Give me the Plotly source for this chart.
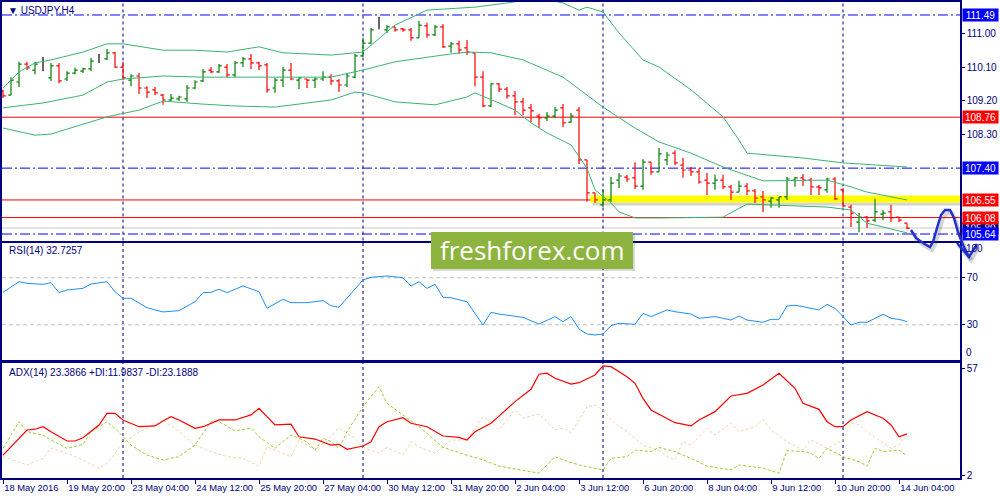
import plotly.graph_objects as go

# ---------------- data (USDJPY H4) ----------------
bar_index = list(range(114))
opens = [109.46, 109.35, 109.70, 110.18, 110.02, 110.16, 109.81, 110.13, 109.78, 109.94,
         109.99, 110.05, 110.29, 110.32, 110.48, 110.10, 109.75, 109.86, 109.54, 109.49,
         109.35, 109.22, 109.25, 109.25, 109.54, 109.73, 110.02, 109.97, 110.10, 109.89,
         110.21, 110.32, 110.21, 110.16, 109.54, 109.75, 110.02, 109.75, 109.78, 109.75,
         109.78, 109.83, 109.73, 109.62, 109.83, 110.40, 110.74, 111.12, 111.09, 111.17,
         111.12, 111.09, 110.88, 111.20, 110.96, 111.17, 110.66, 110.72, 110.61, 110.48,
         109.83, 109.06, 109.65, 109.51, 109.33, 109.17, 109.01, 108.79, 108.74, 108.79,
         109.01, 108.63, 108.95, 107.62, 106.74, 106.42, 106.55, 107.08, 107.16, 107.14,
         106.92, 107.56, 107.30, 107.62, 107.80, 107.48, 107.35, 107.30, 107.08, 107.00,
         107.08, 106.90, 106.76, 106.92, 106.79, 106.63, 106.52, 106.55, 106.63, 107.08,
         107.14, 107.08, 106.90, 106.82, 107.11, 106.82, 106.36, 105.96, 106.09, 106.01,
         106.17, 106.23, 106.09, 105.93]
highs = [109.49, 109.83, 110.24, 110.24, 110.24, 110.37, 110.21, 110.21, 109.99, 110.08,
         110.08, 110.34, 110.45, 110.58, 110.50, 110.24, 109.91, 109.94, 109.59, 109.57,
         109.38, 109.38, 109.33, 109.62, 109.75, 110.05, 110.10, 110.18, 110.18, 110.26,
         110.37, 110.45, 110.24, 110.21, 109.81, 110.10, 110.21, 109.83, 109.78, 109.83,
         109.99, 109.91, 109.78, 109.94, 110.45, 110.88, 111.14, 111.44, 111.22, 111.17,
         111.14, 111.14, 111.33, 111.28, 111.22, 111.25, 110.77, 110.80, 110.82, 110.48,
         109.99, 109.67, 109.67, 109.57, 109.46, 109.27, 109.11, 108.85, 108.90, 109.03,
         109.11, 108.87, 109.03, 107.62, 106.74, 106.84, 107.16, 107.27, 107.22, 107.56,
         107.64, 107.56, 107.94, 107.83, 107.88, 107.67, 107.43, 107.40, 107.27, 107.22,
         107.22, 106.95, 107.06, 107.00, 106.84, 106.79, 106.63, 106.63, 107.16, 107.16,
         107.24, 107.14, 106.95, 107.14, 107.16, 106.87, 106.42, 106.20, 106.12, 106.58,
         106.28, 106.42, 106.09, 105.93]
lows = [109.27, 109.35, 109.57, 110.02, 109.91, 109.99, 109.73, 109.67, 109.73, 109.91,
        109.94, 109.99, 110.21, 110.29, 110.08, 109.75, 109.59, 109.38, 109.27, 109.35,
        109.09, 109.19, 109.19, 109.17, 109.51, 109.70, 109.94, 109.94, 109.83, 109.83,
        110.10, 110.05, 110.02, 109.41, 109.41, 109.57, 109.75, 109.51, 109.54, 109.54,
        109.73, 109.62, 109.43, 109.57, 109.81, 110.37, 110.72, 111.12, 111.01, 111.04,
        111.04, 110.80, 110.88, 110.88, 110.93, 110.61, 110.48, 110.45, 110.42, 109.59,
        109.03, 109.03, 109.43, 109.25, 108.82, 108.82, 108.63, 108.47, 108.66, 108.74,
        108.50, 108.61, 107.51, 106.50, 106.47, 106.36, 106.50, 106.87, 107.03, 106.84,
        106.82, 107.22, 107.30, 107.48, 107.48, 107.14, 107.19, 106.98, 106.68, 106.82,
        106.84, 106.55, 106.76, 106.68, 106.47, 106.23, 106.34, 106.34, 106.55, 106.90,
        106.92, 106.68, 106.68, 106.74, 106.55, 106.36, 105.83, 105.69, 105.80, 105.96,
        106.01, 105.96, 105.96, 105.77]
closes = [109.33, 109.75, 110.18, 110.08, 110.18, 110.16, 110.13, 109.73, 109.94, 110.02,
          110.05, 110.26, 110.29, 110.48, 110.10, 109.81, 109.86, 109.54, 109.43, 109.41,
          109.22, 109.27, 109.30, 109.54, 109.70, 109.97, 109.97, 110.13, 109.89, 110.21,
          110.32, 110.21, 110.13, 109.49, 109.75, 110.02, 109.78, 109.81, 109.75, 109.78,
          109.83, 109.73, 109.62, 109.86, 110.40, 110.74, 111.09, 111.12, 111.17, 111.09,
          111.09, 110.88, 111.22, 110.96, 111.17, 110.64, 110.72, 110.56, 110.50, 109.83,
          109.06, 109.65, 109.51, 109.33, 109.17, 108.95, 108.93, 108.74, 108.79, 108.95,
          108.61, 108.79, 107.62, 106.74, 106.55, 106.55, 107.00, 107.19, 107.11, 106.92,
          107.56, 107.30, 107.78, 107.75, 107.54, 107.35, 107.30, 107.03, 107.00, 107.08,
          106.90, 106.76, 106.92, 106.79, 106.60, 106.55, 106.60, 106.63, 107.11, 107.14,
          107.08, 106.90, 106.87, 107.11, 106.58, 106.39, 106.20, 106.09, 105.99, 106.23,
          106.20, 106.07, 106.01, 105.80]

# Bollinger bands (upper / middle / lower)
bb_up_idx = [0, 2, 4, 6, 10, 13, 15, 20, 24, 28, 32, 35, 41, 45, 49, 53, 59, 63, 67, 70,
             72, 73, 75, 77, 80, 82, 86, 90, 92, 93, 100, 105, 113]
bb_up_val = [109.54, 109.97, 110.21, 110.29, 110.50, 110.72, 110.72, 110.55, 110.55, 110.50,
             110.64, 110.48, 110.42, 110.50, 111.22, 111.62, 111.70, 111.81, 111.95, 111.81,
             111.62, 111.70, 111.57, 111.01, 110.29, 110.10, 109.49, 108.77, 108.15, 107.80,
             107.67, 107.54, 107.43]
bb_mid_idx = [0, 5, 10, 13, 15, 20, 25, 33, 41, 45, 49, 55, 58, 61, 65, 70, 75, 79, 82, 86,
              90, 95, 103, 106, 108, 113]
bb_mid_val = [109.01, 109.14, 109.35, 109.70, 109.78, 109.86, 109.83, 109.83, 109.83, 110.02,
              110.24, 110.42, 110.50, 110.48, 110.29, 109.83, 109.03, 108.47, 108.10, 107.80,
              107.43, 107.06, 107.08, 106.90, 106.76, 106.55]
bb_low_idx = [0, 4, 6, 10, 13, 17, 20, 25, 29, 34, 41, 44, 45, 49, 54, 58, 59, 62, 64, 66,
              68, 71, 72, 73, 74, 76, 77, 79, 82, 90, 93, 103, 106, 108, 113]
bb_low_val = [108.47, 108.28, 108.31, 108.58, 108.77, 108.95, 109.19, 109.11, 109.06, 109.03,
              109.22, 109.43, 109.41, 109.17, 109.09, 109.30, 109.41, 109.14, 108.95, 108.61,
              108.34, 108.02, 107.70, 107.40, 106.82, 106.47, 106.23, 106.07, 106.07, 106.09,
              106.44, 106.36, 106.28, 105.93, 105.67]

# RSI(14)
rsi_idx = [0, 2, 3, 5, 6, 7, 8, 10, 11, 13, 14, 15, 16, 18, 19, 20, 22, 24, 25, 26,
           27, 28, 30, 32, 33, 35, 36, 38, 40, 41, 42, 45, 46, 48, 50, 51, 52, 53, 54, 55,
           56, 58, 60, 61, 62, 65, 67, 69, 70, 71, 72, 73, 74, 75, 76, 77, 79, 80, 81, 83,
           84, 86, 87, 89, 91, 92, 93, 95, 96, 97, 98, 99, 100, 102, 103, 104, 105, 106, 107, 108,
           110, 111, 112, 113]
rsi_val = [57.6, 66.6, 65.3, 64.4, 65.8, 57.3, 59.6, 61.0, 64.7, 66.6, 58.1, 52.5, 52.5, 44.5, 42.6, 40.9, 42.0, 49.6, 57.3, 57.6,
           60.2, 57.3, 63.0, 58.1, 44.0, 51.7, 48.8, 48.8, 50.5, 46.2, 44.9, 68.1, 70.4, 71.5, 70.0, 63.0, 66.6, 61.0, 64.4, 53.4,
           53.0, 49.6, 29.8, 40.6, 39.1, 36.3, 30.6, 36.9, 32.6, 36.9, 26.4, 22.1, 21.3, 22.1, 29.2, 31.2, 30.4, 39.7, 36.9, 42.6,
           41.1, 39.1, 35.5, 36.9, 34.0, 37.4, 34.0, 32.1, 34.6, 34.6, 46.0, 46.6, 45.4, 42.6, 47.4, 44.0, 36.9, 29.8, 32.1, 32.1,
           38.9, 35.5, 34.6, 32.7]

# ADX(14), +DI, -DI
adx_idx = [0, 2, 3, 4, 5, 6, 8, 9, 10, 12, 13, 14, 15, 17, 19, 20, 21, 22, 24, 25,
           27, 29, 31, 32, 33, 34, 36, 37, 39, 40, 41, 42, 43, 45, 46, 47, 48, 50, 51, 53,
           55, 57, 58, 59, 61, 62, 64, 66, 67, 68, 69, 71, 72, 74, 75, 76, 78, 79, 80, 81,
           83, 84, 86, 87, 89, 90, 91, 93, 95, 97, 99, 100, 102, 103, 104, 105, 106, 108, 110, 111,
           112, 113]
adx_val = [12.4, 21.1, 25.4, 25.8, 27.1, 24.5, 19.7, 19.7, 21.4, 28.0, 34.0, 34.0, 30.6, 27.1, 27.5, 30.1, 32.3, 30.6, 26.3, 27.1,
           30.6, 30.6, 33.2, 36.6, 32.3, 28.0, 28.4, 21.9, 20.7, 19.3, 17.6, 18.0, 15.4, 17.1, 19.3, 27.1, 29.7, 31.8, 28.9, 27.1,
           22.3, 21.6, 20.2, 24.5, 28.9, 32.6, 40.1, 46.5, 54.3, 54.8, 52.2, 49.2, 49.9, 53.9, 58.6, 58.2, 53.0, 49.6, 41.8, 35.8,
           31.5, 29.2, 27.5, 30.6, 34.9, 39.2, 43.0, 44.4, 48.7, 54.8, 47.0, 39.2, 36.1, 29.7, 27.1, 27.1, 30.6, 34.9, 31.5, 28.0,
           21.9, 23.39]
pdi_idx = [0, 2, 3, 5, 6, 8, 10, 11, 13, 14, 16, 18, 20, 22, 24, 26, 27, 29, 31, 32,
           34, 36, 38, 39, 40, 41, 42, 43, 45, 47, 48, 50, 52, 53, 55, 58, 60, 62, 65, 67,
           69, 70, 72, 74, 75, 76, 78, 79, 81, 82, 84, 86, 88, 91, 92, 95, 97, 98, 100, 101,
           102, 103, 105, 107, 108, 109, 110, 112, 113]
pdi_val = [15.9, 29.7, 24.5, 22.8, 20.2, 15.9, 18.0, 24.5, 29.7, 26.3, 17.6, 12.4, 9.9, 11.6, 17.6, 29.7, 29.7, 25.0, 26.3, 21.9,
           15.9, 22.8, 19.3, 15.0, 21.1, 19.3, 15.9, 24.5, 37.5, 47.8, 39.2, 33.2, 27.1, 23.7, 16.4, 12.4, 9.9, 6.7, 4.7, 3.0,
           11.6, 9.9, 7.3, 5.6, 4.7, 10.7, 11.6, 15.0, 14.2, 16.4, 14.2, 10.7, 6.7, 4.7, 7.3, 5.6, 3.0, 14.7, 14.2, 13.3,
           10.7, 15.9, 11.6, 9.0, 6.7, 15.9, 14.2, 15.0, 11.98]
mdi_idx = [0, 3, 5, 6, 8, 10, 12, 13, 15, 17, 19, 20, 22, 24, 26, 28, 30, 32, 33, 35,
           36, 37, 39, 40, 42, 44, 45, 47, 48, 50, 51, 52, 54, 56, 58, 60, 61, 62, 64, 65,
           67, 69, 70, 71, 73, 74, 75, 76, 78, 80, 82, 83, 84, 85, 86, 88, 89, 91, 92, 94,
           95, 96, 98, 100, 101, 103, 105, 106, 107, 108, 110, 111, 112, 113]
mdi_val = [11.6, 7.3, 10.7, 15.9, 13.3, 9.9, 5.6, 8.1, 18.5, 24.5, 28.0, 30.6, 24.5, 17.6, 14.2, 11.6, 10.7, 6.7, 16.7, 13.3,
           11.6, 20.2, 15.0, 18.5, 26.3, 21.1, 16.4, 13.3, 16.4, 12.4, 19.3, 16.7, 13.3, 20.2, 20.2, 32.3, 29.7, 25.4, 35.8, 31.5,
           33.7, 25.4, 26.3, 24.0, 37.5, 38.3, 35.8, 30.6, 24.5, 17.6, 14.7, 11.6, 9.9, 19.3, 17.6, 26.3, 22.8, 28.9, 24.5, 27.1,
           30.9, 25.4, 19.3, 15.0, 20.2, 15.9, 20.2, 28.9, 28.0, 24.5, 18.5, 15.9, 17.6, 23.19]

# levels / labels
blue_levels = [111.49, 107.40, 105.64]
red_levels = [108.76, 106.55, 106.08]
bid_price = 105.80
zone_low, zone_high, zone_start = 106.48, 106.67, 73.4
separator_idx = [15, 45, 75, 105]
price_ticks = [111.00, 110.10, 109.20, 108.30]
rsi_levels = [70, 30]
adx_ticks = [57, 2]
x_tick_idx = list(range(0, 113, 8))
x_tick_text = ['18 May 2016', '19 May 20:00', '23 May 04:00', '24 May 12:00', '25 May 20:00',
               '27 May 04:00', '30 May 12:00', '31 May 20:00', '2 Jun 04:00', '3 Jun 12:00',
               '6 Jun 20:00', '8 Jun 04:00', '9 Jun 12:00', '10 Jun 20:00', '14 Jun 04:00']

# ---------------- geometry helpers (canvas pixels -> paper) ----------------
PL, PR, PT, PB = 2, 960, 2, 478


def fx(px):
    return (px - PL) / (PR - PL)


def fy(py):
    return (PB - py) / (PB - PT)


NAVY = "#000080"
FONT = "Liberation Sans"
X_RANGE = [-0.125, 119.625]

fig = go.Figure()

# OHLC bars
groups = [(lambda o, c: c > o, "#008000"), (lambda o, c: c < o, "#FF0000"), (lambda o, c: c == o, "#000000")]
for cond, col in groups:
    ids = [i for i in bar_index if cond(opens[i], closes[i])]
    if not ids:
        continue
    gaps = [b - a for a, b in zip(ids, ids[1:])]
    mg = min(gaps) if gaps else 1
    fig.add_trace(go.Ohlc(
        x=ids, open=[opens[i] for i in ids], high=[highs[i] for i in ids],
        low=[lows[i] for i in ids], close=[closes[i] for i in ids],
        increasing=dict(line=dict(color=col, width=1.2)),
        decreasing=dict(line=dict(color=col, width=1.2)),
        tickwidth=min(0.5, 0.34 / mg), hoverinfo="skip", xaxis="x", yaxis="y"))

for xs, ys in [(bb_up_idx, bb_up_val), (bb_mid_idx, bb_mid_val), (bb_low_idx, bb_low_val)]:
    fig.add_trace(go.Scatter(x=xs, y=ys, mode="lines", line=dict(color="#3CB371", width=1),
                             hoverinfo="skip", xaxis="x", yaxis="y"))

fig.add_trace(go.Scatter(x=rsi_idx, y=rsi_val, mode="lines", line=dict(color="#1E90FF", width=1),
                         hoverinfo="skip", xaxis="x2", yaxis="y2"))

fig.add_trace(go.Scatter(x=mdi_idx, y=mdi_val, mode="lines", line=dict(color="#F0D6A8", width=1, dash="3px,2px"),
                         hoverinfo="skip", xaxis="x3", yaxis="y3"))
fig.add_trace(go.Scatter(x=pdi_idx, y=pdi_val, mode="lines", line=dict(color="#9ACD32", width=1, dash="3px,2px"),
                         hoverinfo="skip", xaxis="x3", yaxis="y3"))
fig.add_trace(go.Scatter(x=adx_idx, y=adx_val, mode="lines", line=dict(color="#FF0000", width=1.2),
                         hoverinfo="skip", xaxis="x3", yaxis="y3"))

shapes = []
# yellow zone with soft shadow
shapes.append(dict(type="rect", xref="x", yref="y", x0=zone_start + 0.3, x1=X_RANGE[1], y0=zone_low - 0.08,
                   y1=zone_low, fillcolor="rgba(110,110,110,0.30)", line=dict(width=0), layer="below"))
shapes.append(dict(type="rect", xref="x", yref="y", x0=zone_start, x1=X_RANGE[1], y0=zone_low,
                   y1=zone_high, fillcolor="#FFFF00", line=dict(width=0), layer="below"))
for lv in blue_levels:
    shapes.append(dict(type="line", xref="x domain", yref="y", x0=0, x1=1, y0=lv, y1=lv,
                       line=dict(color="#0000FF", width=1, dash="10px,3px,2px,3px"), layer="below"))
for lv in red_levels:
    shapes.append(dict(type="line", xref="x domain", yref="y", x0=0, x1=1, y0=lv, y1=lv,
                       line=dict(color="#FF0000", width=1), layer="below"))
shapes.append(dict(type="line", xref="x domain", yref="y", x0=0, x1=1, y0=bid_price, y1=bid_price,
                   line=dict(color="#C8C8C8", width=1), layer="below"))
for lv in rsi_levels:
    shapes.append(dict(type="line", xref="x2 domain", yref="y2", x0=0, x1=1, y0=lv, y1=lv,
                       line=dict(color="#C0C0C0", width=1, dash="4px,3px"), layer="below"))
for s in separator_idx:
    for ya in ["y", "y2", "y3"]:
        shapes.append(dict(type="line", xref="x", yref=ya + " domain", x0=s, x1=s, y0=0, y1=1,
                           line=dict(color=NAVY, width=1, dash="3px,3px"), layer="below"))

# logo box
shapes.append(dict(type="rect", xref="paper", yref="paper", x0=fx(433), x1=fx(635), y0=fy(271), y1=fy(234),
                   fillcolor="rgba(0,0,0,0.15)", line=dict(width=0), layer="above"))
shapes.append(dict(type="rect", xref="paper", yref="paper", x0=fx(431), x1=fx(633), y0=fy(269), y1=fy(232),
                   fillcolor="#8DB43F", line=dict(width=0), layer="above"))

# hand-drawn arrow
arrow_px = [(911, 230), (916, 238), (923, 243), (930, 247), (933, 242), (937, 228), (941, 215),
            (945, 210), (950, 210), (954, 218), (958, 232), (963, 245), (969, 257)]
head_px = [(957, 243), (969, 257), (977, 244)]


def path_of(pts, dx=0, dy=0):
    return "M " + " L ".join(f"{fx(x + dx):.5f},{fy(y + dy):.5f}" for x, y in pts)


for dx, dy, col, w in [(2, 3, "rgba(60,60,60,0.22)", 4), (0, 0, "#1F2FD0", 2.5)]:
    shapes.append(dict(type="path", xref="paper", yref="paper", path=path_of(arrow_px, dx, dy),
                       line=dict(color=col, width=w), layer="above"))
    shapes.append(dict(type="path", xref="paper", yref="paper", path=path_of(head_px, dx, dy),
                       line=dict(color=col, width=w), layer="above"))

annotations = []
txt_font = dict(family=FONT, size=10, color=NAVY)
annotations.append(dict(xref="paper", yref="paper", x=fx(6), y=fy(10), xanchor="left", yanchor="middle",
                        text="▼ USDJPY,H4", showarrow=False, font=txt_font))
annotations.append(dict(xref="paper", yref="paper", x=fx(7), y=fy(251), xanchor="left", yanchor="middle",
                        text="RSI(14) 32.7257", showarrow=False, font=txt_font))
annotations.append(dict(xref="paper", yref="paper", x=fx(7), y=fy(372), xanchor="left", yanchor="middle",
                        text="ADX(14) 23.3866 +DI:11.9837 -DI:23.1888", showarrow=False, font=txt_font))
annotations.append(dict(xref="paper", yref="y2", x=fx(964), y=6, xanchor="left", yanchor="middle",
                        text="0", showarrow=False, font=txt_font))
annotations.append(dict(xref="paper", yref="y2", x=fx(964), y=94.5, xanchor="left", yanchor="middle",
                        text="100", showarrow=False, font=txt_font))

labels = [(bid_price, NAVY)] + [(v, "#0000FF") for v in blue_levels[:2]] + [(v, "#FF0000") for v in red_levels] + [(blue_levels[2], "#0000FF")]
for v, bg in labels:
    annotations.append(dict(xref="paper", yref="y", x=fx(962), y=v, xanchor="left", yanchor="middle",
                            text=f"{v:.2f}", showarrow=False, bgcolor=bg, width=35, height=12,
                            borderpad=0, font=dict(family=FONT, size=10, color="white")))

annotations.append(dict(xref="paper", yref="paper", x=fx(532), y=fy(250), xanchor="center", yanchor="middle",
                        text="freshforex.com", showarrow=False,
                        font=dict(family="Open Sans", size=26, color="white")))

axis_common = dict(showgrid=False, zeroline=False, showline=True, mirror=True, linecolor=NAVY, linewidth=1.5)
yaxis_common = dict(axis_common, side="right", ticks="outside", ticklen=3, tickcolor=NAVY,
                    tickfont=dict(family=FONT, size=10, color=NAVY))

fig.update_layout(
    width=1000, height=500, margin=dict(l=PL, r=1000 - PR, t=PT, b=500 - PB, autoexpand=False),
    paper_bgcolor="white", plot_bgcolor="white", showlegend=False, hovermode=False,
    template="none",
    xaxis=dict(axis_common, domain=[0, 1], anchor="y", range=X_RANGE, showticklabels=False, ticks="",
               rangeslider=dict(visible=False)),
    xaxis2=dict(axis_common, domain=[0, 1], anchor="y2", matches="x", range=X_RANGE, showticklabels=False, ticks=""),
    xaxis3=dict(axis_common, domain=[0, 1], anchor="y3", matches="x", range=X_RANGE, tickmode="array",
                tickvals=x_tick_idx, ticktext=x_tick_text, ticks="outside", ticklen=4, tickcolor=NAVY,
                tickangle=0, ticklabelposition="outside right",
                tickfont=dict(family=FONT, size=9.4, color=NAVY)),
    yaxis=dict(yaxis_common, domain=[fy(240.5), 1], anchor="x", range=[105.467, 111.837],
               tickmode="array", tickvals=price_ticks, ticktext=[f"{v:.2f}" for v in price_ticks]),
    yaxis2=dict(yaxis_common, domain=[fy(360), fy(242.5)], anchor="x2", range=[0, 100],
                tickmode="array", tickvals=rsi_levels, ticktext=[str(v) for v in rsi_levels]),
    yaxis3=dict(yaxis_common, domain=[0, fy(362.7)], anchor="x3", range=[0.53, 60.26],
                tickmode="array", tickvals=adx_ticks, ticktext=[str(v) for v in adx_ticks]),
    shapes=shapes, annotations=annotations,
)

fig.write_html("out.html", config={"displayModeBar": False},
               post_script="document.body.style.margin='0px';document.body.style.overflow='hidden';")
